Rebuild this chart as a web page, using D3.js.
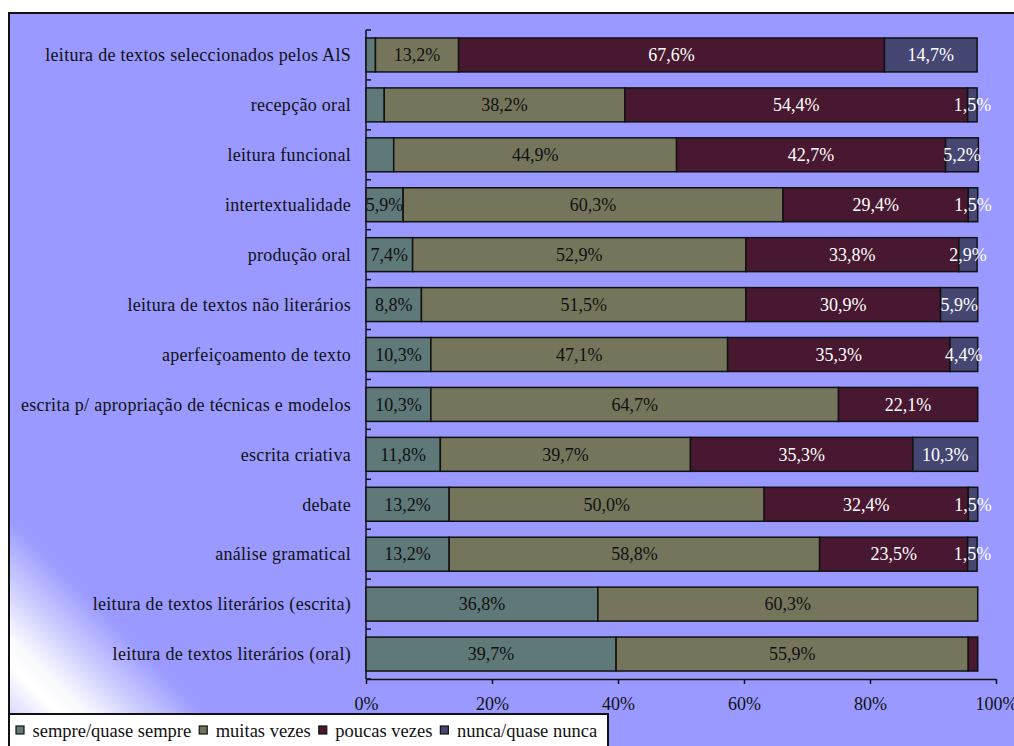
<!DOCTYPE html>
<html lang="pt">
  <head>
    <meta charset="utf-8"/>
    <title>Actividades</title>
    <script src="https://cdn.jsdelivr.net/npm/d3@7/dist/d3.min.js"></script>
    <style>
      body { margin: 0; background: #fff; }
    </style>
  </head>
  <body>
    <div id="chart"></div>
    <script type="text/javascript">
     // categorias, de cima para baixo
     const categories = [
         "leitura de textos seleccionados pelos AlS",
         "recepção oral",
         "leitura funcional",
         "intertextualidade",
         "produção oral",
         "leitura de textos não literários",
         "aperfeiçoamento de texto",
         "escrita p/ apropriação de técnicas e modelos",
         "escrita criativa",
         "debate",
         "análise gramatical",
         "leitura de textos literários (escrita)",
         "leitura de textos literários (oral)"
     ];

     const seriesNames = ["sempre/quase sempre", "muitas vezes", "poucas vezes", "nunca/quase nunca"];

     const sempre   = [1.5, 2.9, 4.4, 5.9, 7.4, 8.8, 10.3, 10.3, 11.8, 13.2, 13.2, 36.8, 39.7];
     const muitas   = [13.2, 38.2, 44.9, 60.3, 52.9, 51.5, 47.1, 64.7, 39.7, 50.0, 58.8, 60.3, 55.9];
     const poucas   = [67.6, 54.4, 42.7, 29.4, 33.8, 30.9, 35.3, 22.1, 35.3, 32.4, 23.5, 0, 1.5];
     const nunca    = [14.7, 1.5, 5.2, 1.5, 2.9, 5.9, 4.4, 0, 10.3, 1.5, 1.5, 0, 0];

     // rótulos que não aparecem no original: [linha, série]
     const hiddenLabels = [[0, 0], [1, 0], [2, 0], [12, 2]];

     const xTicks = [0, 20, 40, 60, 80, 100];

     const colors = ["#5f7878", "#75755c", "#481830", "#464673"];
     const labelColors = ["#111", "#111", "#fff", "#fff"];

     const FONT = '"Liberation Serif"';
     const FS = 18;

     let svgWidth = 1014,
         svgHeight = 746;

     let svg = d3.select("#chart")
                 .append("svg")
                 .attr("width", svgWidth)
                 .attr("height", svgHeight);

     let defs = svg.append("defs");
     let grad = defs.append("linearGradient")
                    .attr("id", "bg")
                    .attr("gradientUnits", "userSpaceOnUse")
                    .attr("x1", 9).attr("y1", 713)
                    .attr("x2", 150).attr("y2", 572);
     grad.append("stop").attr("offset", 0).attr("stop-color", "#d8d8ff");
     grad.append("stop").attr("offset", 0.17).attr("stop-color", "#ffffff");
     grad.append("stop").attr("offset", 0.27).attr("stop-color", "#fafaff");
     grad.append("stop").attr("offset", 0.7).attr("stop-color", "#9999ff");
     grad.append("stop").attr("offset", 1).attr("stop-color", "#9999ff");

     // moldura
     svg.append("rect")
        .attr("x", 9).attr("y", 13)
        .attr("width", 1020).attr("height", 760)
        .attr("fill", "url(#bg)")
        .attr("stroke", "#111")
        .attr("stroke-width", 2);

     let plot = { left: 366, right: 996, top: 30, bottom: 679 };

     let xScale = d3.scaleLinear()
                    .domain([0, 100])
                    .range([plot.left, plot.right]);

     let yScale = d3.scaleBand()
                    .domain(categories)
                    .range([plot.top, plot.bottom])
                    .paddingInner(0.32)
                    .paddingOuter(0.16);

     let rows = categories.map((c, i) => ({
         cat: c, i: i,
         vals: [sempre[i], muitas[i], poucas[i], nunca[i]]
     }));

     let stack = d3.stack()
                   .keys([0, 1, 2, 3])
                   .value((d, k) => d.vals[k]);
     let stacked = stack(rows);

     let fmt = v => d3.format(".1f")(v).replace(".", ",") + "%";
     let isHidden = (r, s) => hiddenLabels.some(h => h[0] === r && h[1] === s);

     // eixo y (categorias)
     svg.append("line")
        .attr("x1", plot.left).attr("x2", plot.left)
        .attr("y1", plot.top).attr("y2", plot.bottom)
        .attr("stroke", "#111").attr("stroke-width", 1.5);

     let step = yScale.step();
     d3.range(categories.length + 1).forEach(k => {
         let y = plot.top + k * step;
         svg.append("line")
            .attr("x1", plot.left).attr("x2", plot.left + 5)
            .attr("y1", y).attr("y2", y)
            .attr("stroke", "#111").attr("stroke-width", 1.5);
     });

     svg.append("g")
        .selectAll("text")
        .data(categories)
        .join("text")
        .attr("x", 351)
        .attr("y", d => yScale(d) + yScale.bandwidth() / 2)
        .attr("dy", "0.35em")
        .attr("text-anchor", "end")
        .style("font-family", FONT)
        .style("font-size", FS + "px")
        .style("letter-spacing", "0.3px")
        .attr("fill", "#111")
        .text(d => d);

     // barras
     let layers = svg.append("g")
                     .selectAll("g")
                     .data(stacked)
                     .join("g")
                     .attr("fill", d => colors[d.key]);

     layers.selectAll("rect")
           .data(d => d.filter(p => p[1] - p[0] > 0))
           .join("rect")
           .attr("x", p => xScale(p[0]))
           .attr("y", p => yScale(p.data.cat))
           .attr("width", p => xScale(p[1]) - xScale(p[0]))
           .attr("height", yScale.bandwidth())
           .attr("stroke", "#111")
           .attr("stroke-width", 1.5);

     // rótulos de dados
     stacked.forEach(layer => {
         svg.append("g")
            .selectAll("text")
            .data(layer.filter(p => p[1] - p[0] > 0 && !isHidden(p.data.i, layer.key)))
            .join("text")
            .attr("x", p => (xScale(p[0]) + xScale(p[1])) / 2)
            .attr("y", p => yScale(p.data.cat) + yScale.bandwidth() / 2)
            .attr("dy", "0.35em")
            .attr("text-anchor", "middle")
            .style("font-family", FONT)
            .style("font-size", FS + "px")
            .attr("fill", labelColors[layer.key])
            .text(p => fmt(p[1] - p[0]));
     });

     // eixo x
     let xAxis = d3.axisBottom(xScale)
                   .tickValues(xTicks)
                   .tickSize(5)
                   .tickSizeOuter(0)
                   .tickFormat(d => d + "%");

     let gx = svg.append("g")
                 .attr("transform", `translate(0, ${plot.bottom})`)
                 .call(xAxis);
     gx.attr("font-family", null).attr("font-size", null);
     gx.select(".domain").attr("stroke", "#111").attr("stroke-width", 1.5);
     gx.selectAll(".tick line").attr("stroke", "#111").attr("stroke-width", 1.5);
     gx.selectAll(".tick text")
       .attr("y", 18)
       .style("font-family", FONT)
       .style("font-size", FS + "px")
       .attr("fill", "#111");

     // legenda
     let legend = svg.append("g");
     legend.append("rect")
           .attr("x", 9).attr("y", 714)
           .attr("width", 599).attr("height", 50)
           .attr("fill", "#fff")
           .attr("stroke", "#111")
           .attr("stroke-width", 2);

     let lx = 16;
     seriesNames.forEach((name, k) => {
         legend.append("rect")
               .attr("x", lx).attr("y", 726)
               .attr("width", 8).attr("height", 8)
               .attr("fill", colors[k])
               .attr("stroke", "#111")
               .attr("stroke-width", 1.2);
         let t = legend.append("text")
                       .attr("x", lx + 16.5)
                       .attr("y", 730.5)
                       .attr("dy", "0.35em")
                       .style("font-family", FONT)
                       .style("font-size", "18.5px")
                       .attr("fill", "#111")
                       .text(name);
         lx += 16.5 + t.node().getComputedTextLength() + 8;
     });
    </script>
  </body>
</html>
